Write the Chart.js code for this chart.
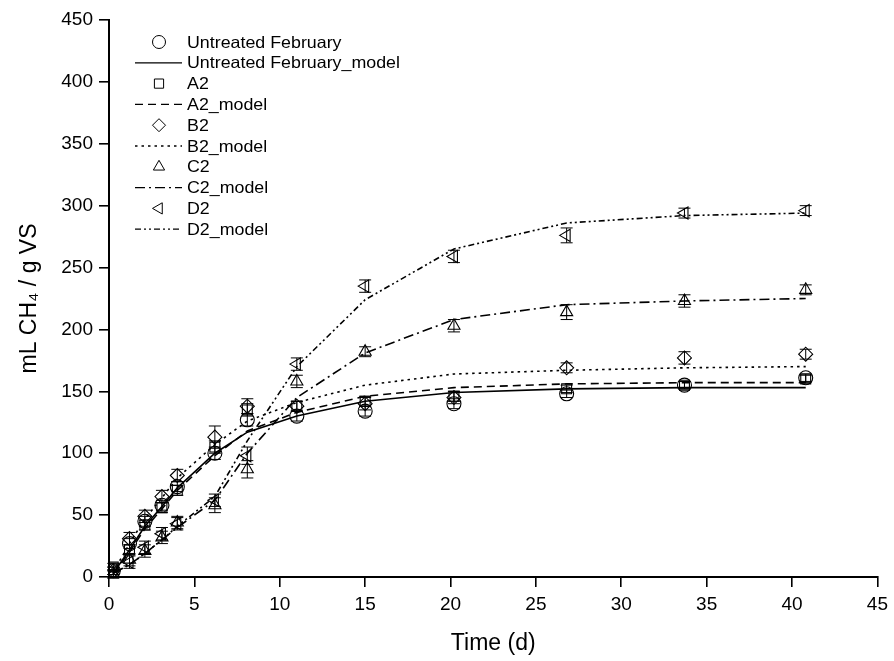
<!DOCTYPE html>
<html>
<head>
<meta charset="utf-8">
<script src="https://cdn.jsdelivr.net/npm/chart.js@4.4.1/dist/chart.umd.min.js"></script>
<style>
  html, body { margin: 0; padding: 0; background: #fff; }
  #wrap { width: 894px; height: 661px; }
</style>
</head>
<body>
<div id="wrap"><canvas id="bmpChart"></canvas></div>
<script>
// Methane yield - measured points and model fits
const times = [0.25, 1.2, 2.1, 3.1, 4.0, 6.2, 8.1, 11.0, 15.0, 20.2, 26.8, 33.7, 40.8];

const untreated = [5, 27, 45, 58, 73, 100, 127, 130, 134, 140, 148, 155, 161];
const a2 = [8, 22, 42, 56, 70, 105, 135, 138, 142, 146, 152, 155, 160];
const b2 = [5, 31, 49, 65, 82, 113, 138, 138, 140, 145, 169, 177, 180];
const c2 = [3, 14, 21, 32, 44, 58, 87, 158, 182, 203, 214, 223, 232];
const d2 = [2, 12, 24, 35, 43, 62, 98, 172, 235, 259, 276, 294, 296];

const untreatedErr = [3, 4, 4, 4, 4, 5, 5, 4, 4, 4, 3, 3, 3];
const a2Err = [3, 4, 4, 4, 4, 5, 5, 4, 4, 4, 3, 3, 3];
const b2Err = [3, 5, 5, 5, 5, 9, 6, 4, 5, 5, 4, 5, 4];
const c2Err = [3, 5, 5, 5, 5, 6, 7, 5, 4, 5, 6, 5, 4];
const d2Err = [3, 5, 5, 5, 5, 5, 7, 5, 5, 5, 6, 4, 4];

const untreatedModel = [3, 22, 41, 57, 72, 100, 117, 130, 142, 149, 152, 153, 153];
const a2Model = [3, 20, 39, 55, 70, 98, 118, 133, 146, 153, 156, 157, 157];
const b2Model = [4, 27, 47, 64, 80, 107, 126, 141, 155, 164, 167, 169, 170];
const c2Model = [3, 10, 19, 30, 40, 62, 100, 145, 181, 208, 220, 223, 225];
const d2Model = [3, 10, 19, 30, 41, 65, 110, 170, 224, 265, 286, 292, 294];

const xTicks = [0, 5, 10, 15, 20, 25, 30, 35, 40, 45];
const yTicks = [0, 50, 100, 150, 200, 250, 300, 350, 400, 450];

const FONT = '"Liberation Sans", Arial, sans-serif';

function pts(ys) {
    return times.map((t, i) => ({ x: t, y: ys[i] }));
}

function markerSet(label, ys, errs, style, rot) {
    return {
        label: label, data: pts(ys), errors: errs, showLine: false,
        pointStyle: style, rotation: rot || 0, pointRadius: 7,
        pointBorderColor: '#000', pointBackgroundColor: 'rgba(0,0,0,0)',
        pointBorderWidth: 1.1, borderColor: '#000'
    };
}

function modelSet(label, ys, dash) {
    return {
        label: label, data: pts(ys), showLine: true, pointRadius: 0,
        borderColor: '#000', borderWidth: 1.6, borderDash: dash, tension: 0
    };
}

const datasets = [
    markerSet('Untreated February', untreated, untreatedErr, 'circle'),
    modelSet('Untreated February_model', untreatedModel, []),
    markerSet('A2', a2, a2Err, 'rect'),
    modelSet('A2_model', a2Model, [8, 5]),
    markerSet('B2', b2, b2Err, 'rectRot'),
    modelSet('B2_model', b2Model, [2.5, 4]),
    markerSet('C2', c2, c2Err, 'triangle'),
    modelSet('C2_model', c2Model, [10, 4, 2, 4]),
    markerSet('D2', d2, d2Err, 'triangle', -90),
    modelSet('D2_model', d2Model, [6, 3, 2, 3, 2, 3])
];

// vertical error bars with caps
const errorBars = {
    id: 'errorBars',
    afterDatasetsDraw(chart) {
        const ctx = chart.ctx;
        const xs = chart.scales.x, ys = chart.scales.y;
        ctx.save();
        ctx.strokeStyle = '#000';
        ctx.lineWidth = 1;
        chart.data.datasets.forEach(ds => {
            if (!ds.errors) return;
            ds.data.forEach((p, i) => {
                const e = ds.errors[i];
                const px = xs.getPixelForValue(p.x);
                const top = ys.getPixelForValue(p.y + e);
                const bot = ys.getPixelForValue(p.y - e);
                ctx.beginPath();
                ctx.moveTo(px, top); ctx.lineTo(px, bot);
                ctx.moveTo(px - 6, top); ctx.lineTo(px + 6, top);
                ctx.moveTo(px - 6, bot); ctx.lineTo(px + 6, bot);
                ctx.stroke();
            });
        });
        ctx.restore();
    }
};

// legend inside plot, upper left
const innerLegend = {
    id: 'innerLegend',
    afterDraw(chart) {
        const ctx = chart.ctx;
        const x0 = 159, y0 = 42, step = 20.8;
        ctx.save();
        chart.data.datasets.forEach((ds, i) => {
            const y = y0 + i * step;
            if (ds.showLine) {
                ctx.save();
                ctx.strokeStyle = '#000';
                ctx.lineWidth = 1.3;
                ctx.setLineDash(ds.borderDash);
                ctx.beginPath();
                ctx.moveTo(135, y); ctx.lineTo(182, y);
                ctx.stroke();
                ctx.restore();
            } else {
                ctx.save();
                ctx.fillStyle = 'rgba(0,0,0,0)';
                ctx.strokeStyle = '#000';
                Chart.helpers.drawPoint(ctx, {
                    pointStyle: ds.pointStyle, rotation: ds.rotation,
                    radius: 6.5, borderWidth: 1.1
                }, x0, y);
                ctx.restore();
            }
            ctx.save();
            ctx.font = '16.5px ' + FONT;
            ctx.fillStyle = '#000';
            ctx.textBaseline = 'middle';
            ctx.translate(187, y + 1);
            ctx.scale(1.08, 1);
            ctx.fillText(ds.label, 0, 0);
            ctx.restore();
        });
        ctx.restore();
    }
};

new Chart(document.getElementById('bmpChart').getContext('2d'), {
    type: 'scatter',
    data: { datasets: datasets },
    options: {
        responsive: true,
        maintainAspectRatio: false,
        animation: false,
        layout: { padding: { top: 20, right: 11, left: 0, bottom: 0 } },
        plugins: { legend: { display: false }, tooltip: { enabled: false } },
        scales: {
            x: {
                type: 'linear', min: 0, max: 45,
                afterBuildTicks: s => { s.ticks = xTicks.map(v => ({ value: v })); },
                afterFit: s => { s.height = 84; },
                grid: { drawOnChartArea: false, drawTicks: true, tickLength: 10, color: '#000', lineWidth: 1.6 },
                border: { display: true, color: '#000', width: 2 },
                ticks: { color: '#000', font: { family: FONT, size: 19 }, padding: 6, maxRotation: 0 },
                title: { display: true, text: 'Time (d)', color: '#000', font: { family: FONT, size: 23 }, padding: { top: 4 } }
            },
            y: {
                type: 'linear', min: 0, max: 450,
                afterBuildTicks: s => { s.ticks = yTicks.map(v => ({ value: v })); },
                afterFit: s => { s.width = 109; },
                grid: { drawOnChartArea: false, drawTicks: true, tickLength: 10, color: '#000', lineWidth: 1.6 },
                border: { display: true, color: '#000', width: 2 },
                ticks: { color: '#000', font: { family: FONT, size: 19 }, padding: 6 },
                title: { display: true, text: 'mL CH\u2084 / g VS', color: '#000', font: { family: FONT, size: 23 }, padding: { top: 16, bottom: 6 } }
            }
        }
    },
    plugins: [errorBars, innerLegend]
});
</script>
</body>
</html>
